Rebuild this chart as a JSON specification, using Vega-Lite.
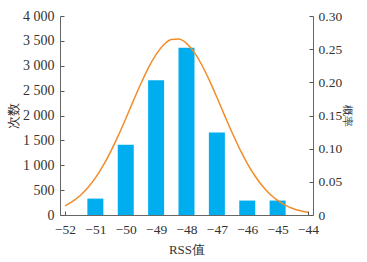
{
  "$schema": "https://vega.github.io/schema/vega-lite/v6.json",
  "autosize": "none",
  "width": 253,
  "height": 199,
  "padding": {"left": 60, "top": 16, "right": 54, "bottom": 47},
  "background": "white",
  "config": {
    "view": {"stroke": null},
    "font": "Liberation Serif",
    "axis": {
      "grid": false,
      "labelFont": "Liberation Serif",
      "titleFont": "Liberation Serif",
      "labelFontSize": 14,
      "titleFontSize": 13,
      "titleFontWeight": "normal",
      "labelColor": "#333333",
      "titleColor": "#333333",
      "domainColor": "#666666",
      "tickColor": "#555555",
      "tickSize": -4,
      "labelPadding": 10,
      "labelOverlap": false,
      "labelFlush": false
    }
  },
  "datasets": {
    "bars": [
      {"rss": -51, "count": 330},
      {"rss": -50, "count": 1410},
      {"rss": -49, "count": 2710},
      {"rss": -48, "count": 3360},
      {"rss": -47, "count": 1660},
      {"rss": -46, "count": 290},
      {"rss": -45, "count": 290}
    ],
    "curve": [
      {"rss": -52, "p": 0.0138}, {"rss": -51.75, "p": 0.0204}, {"rss": -51.5, "p": 0.0293},
      {"rss": -51.25, "p": 0.0410}, {"rss": -51, "p": 0.0559}, {"rss": -50.75, "p": 0.0740},
      {"rss": -50.5, "p": 0.0952}, {"rss": -50.25, "p": 0.1192}, {"rss": -50, "p": 0.1452},
      {"rss": -49.75, "p": 0.1721}, {"rss": -49.5, "p": 0.1982}, {"rss": -49.25, "p": 0.2222},
      {"rss": -49, "p": 0.2421}, {"rss": -48.75, "p": 0.2567}, {"rss": -48.5, "p": 0.2646},
      {"rss": -48.25, "p": 0.2654}, {"rss": -48, "p": 0.2588}, {"rss": -47.75, "p": 0.2455},
      {"rss": -47.5, "p": 0.2265}, {"rss": -47.25, "p": 0.2033}, {"rss": -47, "p": 0.1774},
      {"rss": -46.75, "p": 0.1506}, {"rss": -46.5, "p": 0.1243}, {"rss": -46.25, "p": 0.0998},
      {"rss": -46, "p": 0.0780}, {"rss": -45.75, "p": 0.0592}, {"rss": -45.5, "p": 0.0437},
      {"rss": -45.25, "p": 0.0314}, {"rss": -45, "p": 0.0220}, {"rss": -44.75, "p": 0.0149},
      {"rss": -44.5, "p": 0.0099}, {"rss": -44.25, "p": 0.0064}, {"rss": -44, "p": 0.0040}
    ]
  },
  "encoding": {
    "x": {
      "field": "rss", "type": "quantitative",
      "scale": {"domain": [-52, -44], "nice": false, "zero": false},
      "axis": {
        "title": "RSS值",
        "values": [-52, -51, -50, -49, -48, -47, -46, -45, -44],
        "tickCount": 9,
        "labelOverlap": false,
        "labelFontSize": 13.5,
        "labelPadding": 11,
        "titlePadding": 8
      }
    }
  },
  "layer": [
    {
      "data": {"name": "bars"},
      "mark": {"type": "bar", "color": "#00AEEF", "size": 16},
      "encoding": {
        "y": {
          "field": "count", "type": "quantitative",
          "scale": {"domain": [0, 4000], "nice": false},
          "axis": {
            "title": "次数",
            "values": [0, 500, 1000, 1500, 2000, 2500, 3000, 3500, 4000],
            "labelExpr": "replace(format(datum.value, ','), ',', ' ')",
            "titlePadding": 2
          }
        }
      }
    },
    {
      "data": {"name": "curve"},
      "mark": {"type": "line", "color": "#F28C28", "strokeWidth": 1.5, "interpolate": "monotone"},
      "encoding": {
        "y": {
          "field": "p", "type": "quantitative",
          "scale": {"domain": [0, 0.3], "nice": false},
          "axis": {
            "orient": "right",
            "title": "概率",
            "titleFontSize": 11,
            "labelFontSize": 13.5,
            "values": [0, 0.05, 0.1, 0.15, 0.2, 0.25, 0.3],
            "labelExpr": "datum.value == 0 ? '0' : format(datum.value, '.2f')",
            "labelPadding": 9,
            "titlePadding": 0
          }
        }
      }
    }
  ],
  "resolve": {"scale": {"y": "independent"}}
}
